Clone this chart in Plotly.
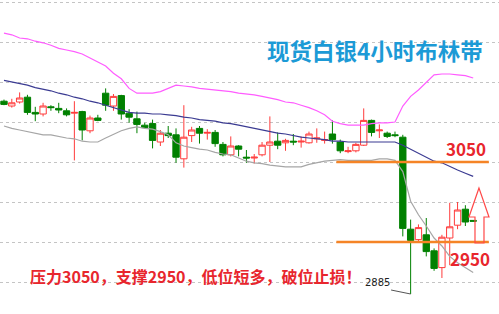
import plotly.graph_objects as go

# 4-hour silver candles (open, high, low, close), oldest first
opens  = [3126, 3120, 3125, 3131, 3112, 3110, 3119, 3117, 3114, 3111,
          3113, 3089, 3105, 3136, 3120, 3133, 3111, 3104, 3096, 3098,
          3075, 3086, 3084, 3054, 3083, 3092, 3086, 3087, 3072, 3059,
          3070, 3056, 3055, 3059, 3071, 3076, 3074, 3076, 3075, 3074,
          3079, 3077, 3085, 3075, 3063, 3064, 3071, 3102, 3089, 3086,
          3084, 3081, 2966, 2953, 2959, 2939, 2918, 2955, 2971, 2991,
          2977]
highs  = [3128, 3129, 3137, 3134, 3119, 3124, 3121, 3124, 3117, 3126,
          3114, 3108, 3109, 3142, 3135, 3134, 3116, 3113, 3099, 3103,
          3090, 3095, 3092, 3121, 3094, 3095, 3091, 3090, 3075, 3082,
          3071, 3065, 3060, 3075, 3107, 3087, 3079, 3085, 3082, 3088,
          3092, 3088, 3102, 3078, 3069, 3074, 3117, 3103, 3097, 3088,
          3088, 3084, 2978, 2972, 2980, 2942, 2959, 2999, 3000, 2996,
          2977]
lows   = [3121, 3118, 3123, 3109, 3101, 3107, 3114, 3111, 3107, 3052,
          3077, 3086, 3101, 3114, 3114, 3103, 3099, 3086, 3092, 3067,
          3070, 3080, 3049, 3043, 3075, 3073, 3078, 3069, 3057, 3057,
          3057, 3049, 3048, 3057, 3050, 3066, 3064, 3071, 3068, 3073,
          3074, 3073, 3073, 3061, 3061, 3062, 3070, 3082, 3080, 3080,
          3081, 2957, 2885, 2951, 2932, 2914, 2905, 2921, 2966, 2970,
          2976]
closes = [3122, 3124, 3130, 3112, 3110, 3120, 3118, 3115, 3109, 3112,
          3090, 3105, 3102, 3121, 3132, 3110, 3106, 3097, 3093, 3077,
          3086, 3083, 3056, 3081, 3090, 3086, 3087, 3073, 3059, 3070,
          3066, 3055, 3056, 3071, 3075, 3071, 3077, 3075, 3076, 3085,
          3080, 3078, 3078, 3064, 3064, 3072, 3102, 3087, 3090, 3082,
          3083, 2967, 2952, 2968, 2938, 2917, 2956, 2969, 2990, 2975,
          2976]

# Bollinger bands (upper / middle / lower)
boll_upper = [3211, 3209, 3205, 3204, 3201, 3199, 3196, 3192, 3190, 3188,
              3185, 3180, 3175, 3170, 3161, 3154, 3142, 3136, 3136, 3136,
              3138, 3142, 3146, 3145, 3144, 3142, 3141, 3140, 3139, 3138,
              3136, 3135, 3134, 3132, 3130, 3128, 3125, 3124, 3121, 3118,
              3114, 3109, 3101, 3098, 3096, 3096, 3096, 3098, 3099, 3099,
              3100, 3120, 3132, 3140, 3150, 3159, 3160, 3160, 3159, 3158,
              3155]
boll_mid   = [3152, 3150, 3148, 3146, 3143, 3141, 3139, 3136, 3134, 3131,
              3129, 3126, 3124, 3121, 3118, 3115, 3112, 3111, 3111, 3110,
              3110, 3109, 3108, 3106, 3105, 3103, 3102, 3101, 3099, 3098,
              3096, 3094, 3092, 3090, 3088, 3086, 3085, 3083, 3081, 3080,
              3079, 3078, 3076, 3076, 3075, 3075, 3075, 3075, 3075, 3075,
              3075, 3071, 3066, 3060, 3056, 3051, 3049, 3044, 3040, 3036,
              3032]
boll_lower = [3095, 3092, 3090, 3088, 3086, 3084, 3084, 3082, 3080, 3079,
              3076, 3075, 3075, 3080, 3085, 3089, 3092, 3094, 3092, 3091,
              3088, 3084, 3074, 3070, 3068, 3066, 3065, 3062, 3060, 3059,
              3055, 3051, 3049, 3048, 3046, 3045, 3044, 3044, 3044, 3047,
              3049, 3051, 3052, 3053, 3052, 3052, 3052, 3052, 3054, 3054,
              3052, 3038, 3001, 2984, 2970, 2955, 2945, 2932, 2924, 2918,
              2912]

# Key levels and annotation text
resistance = 3050
support = 2950
grid_levels = [2900, 2950, 3000, 3050, 3100, 3150, 3200, 3250]
title_text = "现货白银4小时布林带"
advice_text = "压力3050，支撑2950，低位短多，破位止损！"

x = list(range(len(closes)))
low_idx = lows.index(min(lows))
low_label = str(min(lows))

fig = go.Figure()

band_styles = [
    (boll_upper, "#ff5cff"),
    (boll_mid, "#3b3b92"),
    (boll_lower, "#a6a6a6"),
]
for values, color in band_styles:
    fig.add_trace(go.Scatter(x=x, y=values, mode="lines",
                             line=dict(color=color, width=1.2),
                             hoverinfo="skip", showlegend=False))

fig.add_trace(go.Candlestick(
    x=x, open=opens, high=highs, low=lows, close=closes,
    increasing=dict(line=dict(color="#ff3b3b", width=1), fillcolor="white"),
    decreasing=dict(line=dict(color="#008000", width=1), fillcolor="#008000"),
    whiskerwidth=0, showlegend=False, hoverinfo="skip",
))

orange = "#f58426"
level_span = (42.5, 62.0)
for level in (resistance, support):
    fig.add_shape(type="line", xref="x", yref="y",
                  x0=level_span[0], x1=level_span[1], y0=level, y1=level,
                  line=dict(color=orange, width=2.5))

# hollow up arrow beside the latest candles
arrow_pts = [(60.74, 3017.5), (59.46, 2981.25), (60.23, 2981.25),
             (60.23, 2948.75), (61.38, 2948.75), (61.38, 2981.25),
             (62.02, 2981.25)]
path = "M " + " L ".join(f"{px},{py}" for px, py in arrow_pts) + " Z"
fig.add_shape(type="path", xref="x", yref="y", path=path,
              line=dict(color="#ff4848", width=1.2), fillcolor="rgba(0,0,0,0)")

# leader from the low-price label to the candle low
fig.add_shape(type="line", xref="x", yref="y",
              x0=49.5, y0=min(lows) + 5, x1=low_idx, y1=min(lows),
              line=dict(color="#555555", width=1))

red = "#e8262d"
cjk = "Noto Sans CJK SC"
fig.add_annotation(x=0.751, y=0.841, xref="paper", yref="paper",
                   text=f"<b>{title_text}</b>", showarrow=False,
                   font=dict(family=cjk, size=22.5, color="#1c9ad6"),
                   xanchor="center", yanchor="middle")
fig.add_annotation(x=0.392, y=0.121, xref="paper", yref="paper",
                   text=f"<b>{advice_text}</b>", showarrow=False,
                   font=dict(family=cjk, size=16, color=red),
                   xanchor="center", yanchor="middle")
fig.add_annotation(x=61.9, y=resistance, xref="x", yref="y", yshift=14,
                   text=f"<b>{resistance}</b>", showarrow=False,
                   font=dict(family=cjk, size=17, color=red),
                   xanchor="right", yanchor="middle")
fig.add_annotation(x=62.4, y=support, xref="x", yref="y", yshift=-16,
                   text=f"<b>{support}</b>", showarrow=False,
                   font=dict(family=cjk, size=17, color=red),
                   xanchor="right", yanchor="middle")
fig.add_annotation(x=47.8, y=min(lows) + 14, xref="x", yref="y",
                   text=low_label, showarrow=False,
                   font=dict(family="DejaVu Sans", size=10, color="#222222"),
                   xanchor="center", yanchor="middle")

fig.update_layout(
    width=499, height=314,
    margin=dict(l=0, r=0, t=0, b=0),
    paper_bgcolor="white", plot_bgcolor="white",
    boxgap=0.1, boxgroupgap=0.1,
    showlegend=False,
    xaxis=dict(range=[-0.51, 63.3], visible=False, showgrid=False,
               rangeslider=dict(visible=False), fixedrange=True),
    yaxis=dict(range=[2860, 3252.5], showticklabels=False, ticks="",
               zeroline=False, showgrid=True, tickvals=grid_levels,
               gridcolor="#c4c4c4", griddash="dot", gridwidth=1,
               fixedrange=True),
)

fig.write_html("out.html")
